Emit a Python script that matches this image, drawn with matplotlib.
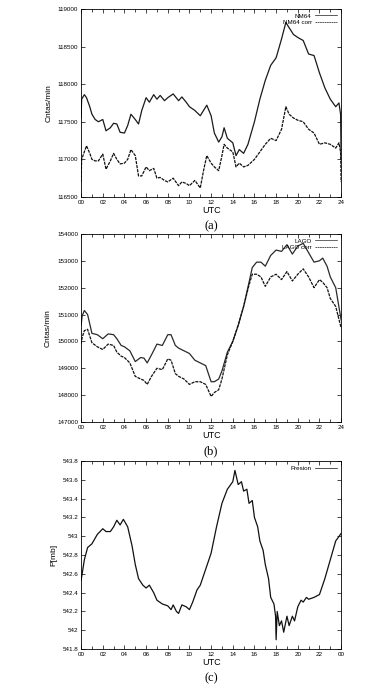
import matplotlib.pyplot as plt
from matplotlib.ticker import MultipleLocator, FuncFormatter

plt.rcParams['font.family'] = ['Liberation Sans', 'DejaVu Sans']

# (a) neutron monitor counts
t_a = [0.0, 0.05, 0.3, 0.5, 0.8, 1.0, 1.3, 1.6, 2.0, 2.3, 2.7, 3.0, 3.3, 3.6, 4.0, 4.3, 4.6,
       5.0, 5.3, 5.6, 6.0, 6.3, 6.7, 7.0, 7.3, 7.7, 8.0, 8.5, 9.0, 9.3, 9.7, 10.0, 10.5,
       11.0, 11.3, 11.6, 12.0, 12.3, 12.7, 13.0, 13.2, 13.5, 14.0, 14.3, 14.6, 15.0, 15.4,
       16.0, 16.5, 17.0, 17.5, 18.0, 18.5, 18.9, 19.2, 19.6, 20.0, 20.5, 21.0, 21.5, 22.0,
       22.5, 23.0, 23.5, 23.8, 23.95, 24.0]
nm64 = [117550, 117800, 117860, 117820, 117700, 117600, 117530, 117500, 117530, 117380,
        117420, 117480, 117470, 117360, 117350, 117450, 117600, 117530, 117470, 117650,
        117820, 117760, 117860, 117800, 117850, 117780, 117820, 117870, 117780, 117830,
        117760, 117700, 117650, 117580, 117650, 117720, 117580, 117350, 117230, 117300,
        117420, 117280, 117220, 117050, 117130, 117080, 117200, 117500, 117800, 118050,
        118250, 118350, 118600, 118820, 118750, 118660, 118620, 118580, 118400, 118380,
        118150, 117950, 117800, 117700, 117750, 117600, 117000]
nm64_corr = [116700, 117000, 117100, 117180, 117080, 117000, 116980, 116980, 117070, 116870,
             116980, 117080, 117000, 116940, 116950, 117000, 117130, 117050, 116780, 116780,
             116900, 116850, 116880, 116750, 116760, 116720, 116700, 116750, 116650, 116700,
             116680, 116650, 116720, 116620, 116850, 117050, 116950, 116900, 116850, 117050,
             117200, 117150, 117100, 116900, 116950, 116900, 116920, 117000, 117100, 117200,
             117280, 117250, 117400, 117700, 117600, 117550, 117520, 117500, 117400, 117350,
             117200, 117220, 117200, 117150, 117220, 117100, 116700]

# (b) LAGO counts
t_b = [0.0, 0.1, 0.3, 0.6, 1.0, 1.5, 2.0, 2.5, 3.0, 3.3, 3.7, 4.0, 4.5, 5.0, 5.5, 5.8, 6.1,
       6.5, 7.0, 7.5, 8.0, 8.3, 8.7, 9.0, 9.5, 10.0, 10.5, 11.0, 11.5, 12.0, 12.3, 12.7,
       13.0, 13.5, 14.0, 14.5, 15.0, 15.5, 15.8, 16.2, 16.6, 17.0, 17.5, 18.0, 18.5, 19.0,
       19.5, 20.0, 20.5, 21.0, 21.5, 22.0, 22.3, 22.7, 23.0, 23.5, 24.0]
lago = [150600, 150950, 151150, 151000, 150300, 150250, 150100, 150280, 150250, 150100,
        149850, 149800, 149650, 149250, 149400, 149380, 149200, 149500, 149900, 149850,
        150250, 150250, 149850, 149750, 149650, 149550, 149300, 149200, 149100, 148500,
        148500, 148600, 148900, 149600, 150000, 150600, 151300, 152200, 152750, 152950,
        152950, 152800, 153200, 153400, 153350, 153600, 153250, 153550, 153650, 153300,
        152950, 153000, 153100, 152800, 152400, 152000, 150800]
lago_corr = [149900, 150150, 150400, 150450, 149950, 149800, 149700, 149900, 149850, 149600,
             149450, 149400, 149200, 148700, 148600, 148550, 148400, 148700, 149000, 148950,
             149350, 149300, 148800, 148700, 148600, 148400, 148500, 148500, 148400, 147950,
             148100, 148200, 148600, 149500, 150000, 150600, 151300, 152100, 152500, 152500,
             152400, 152050, 152400, 152500, 152300, 152600, 152250, 152500, 152700, 152400,
             152000, 152300, 152200, 152000, 151600, 151300, 150500]

# (c) pressure
t_c = [0.0, 0.3, 0.6, 1.0, 1.5, 2.0, 2.3, 2.7, 3.0, 3.3, 3.6, 3.9, 4.3, 4.7, 5.0, 5.3, 5.7,
       6.0, 6.3, 6.7, 7.0, 7.5, 8.0, 8.3, 8.5, 8.8, 9.0, 9.3, 9.7, 10.0, 10.3, 10.7, 11.0,
       11.5, 12.0, 12.5, 13.0, 13.5, 14.0, 14.2, 14.5, 14.8, 15.0, 15.3, 15.5, 15.8, 16.0,
       16.3, 16.5, 16.8, 17.0, 17.3, 17.5, 17.8, 17.95, 18.0, 18.1, 18.3, 18.5, 18.7, 19.0,
       19.2, 19.5, 19.7, 20.0, 20.3, 20.5, 20.8, 21.0, 21.5, 22.0, 22.5, 23.0, 23.5, 24.0]
presion = [542.53, 542.75, 542.88, 542.92, 543.02, 543.08, 543.05, 543.05, 543.1, 543.17,
           543.12, 543.18, 543.1, 542.9, 542.7, 542.55, 542.48, 542.45, 542.48, 542.4,
           542.32, 542.28, 542.26, 542.22, 542.27, 542.2, 542.18, 542.27, 542.25, 542.22,
           542.3, 542.43, 542.48, 542.65, 542.82, 543.1, 543.35, 543.5, 543.58, 543.7,
           543.55, 543.58, 543.48, 543.5, 543.35, 543.38, 543.2, 543.1, 542.95, 542.85,
           542.7, 542.55, 542.35, 542.28, 542.15, 541.9, 542.2, 542.05, 542.1, 541.98,
           542.15, 542.05, 542.15, 542.1, 542.25, 542.32, 542.3, 542.35, 542.33, 542.35,
           542.38, 542.55, 542.75, 542.95, 543.03]

fig = plt.figure(figsize=(3.72, 6.84), dpi=100)
left, width = 0.218, 0.699
ax_a = fig.add_axes([left, 0.712, width, 0.275])
ax_b = fig.add_axes([left, 0.383, width, 0.275])
ax_c = fig.add_axes([left, 0.051, width, 0.275])

lw = 0.9
dash = (0, (2.5, 0.8))
ax_a.plot(t_a, nm64, color='#1a1a1a', lw=lw, label='NM64')
ax_a.plot(t_a, nm64_corr, color='#111111', lw=lw, ls=dash, label='NM64 corr')
ax_b.plot(t_b, lago, color='#2a2a2a', lw=lw, label='LAGO')
ax_b.plot(t_b, lago_corr, color='#111111', lw=lw, ls=dash, label='LAGO corr')
ax_c.plot(t_c, presion, color='#111111', lw=lw, label='Presion')

ax_a.set_ylim(116500, 119000)
ax_a.yaxis.set_major_locator(MultipleLocator(500))
ax_b.set_ylim(147000, 154000)
ax_b.yaxis.set_major_locator(MultipleLocator(1000))
ax_c.set_ylim(541.8, 543.8)
ax_c.yaxis.set_major_locator(MultipleLocator(0.2))
ax_c.yaxis.set_major_formatter(FuncFormatter(lambda v, p: '%g' % round(v, 1)))

for ax, ylab, tag in [(ax_a, 'Cntas/min', '(a)'), (ax_b, 'Cntas/min', '(b)'), (ax_c, 'P[mb]', '(c)')]:
    ax.set_xlim(0, 24)
    ax.xaxis.set_major_locator(MultipleLocator(2))
    ax.xaxis.set_minor_locator(MultipleLocator(1))
    if ax is ax_c:
        ax.xaxis.set_major_formatter(FuncFormatter(lambda v, p: '%02d' % (int(round(v)) % 24)))
    else:
        ax.xaxis.set_major_formatter(FuncFormatter(lambda v, p: '%02d' % int(round(v))))
    ax.tick_params(direction='in', top=True, right=True, labelsize=4.5, length=3, width=0.5, pad=2)
    ax.tick_params(which='minor', direction='in', top=True, length=2, width=0.5)
    for s in ax.spines.values():
        s.set_linewidth(0.6)
    ax.set_xlabel('UTC', fontsize=6.5, labelpad=1)
    ax.set_ylabel(ylab, fontsize=6, labelpad=4)
    ax.text(0.5, -0.155, tag, transform=ax.transAxes, ha='center', va='center',
            fontsize=9, family='Liberation Serif')
    leg = ax.legend(loc='upper right', frameon=False, markerfirst=False, fontsize=4.5,
                    handlelength=3.5, handletextpad=0.5, labelspacing=0.15, borderaxespad=0.3)
    for h in leg.get_lines():
        h.set_linewidth(0.5)

fig.savefig('out.png', dpi=100)
